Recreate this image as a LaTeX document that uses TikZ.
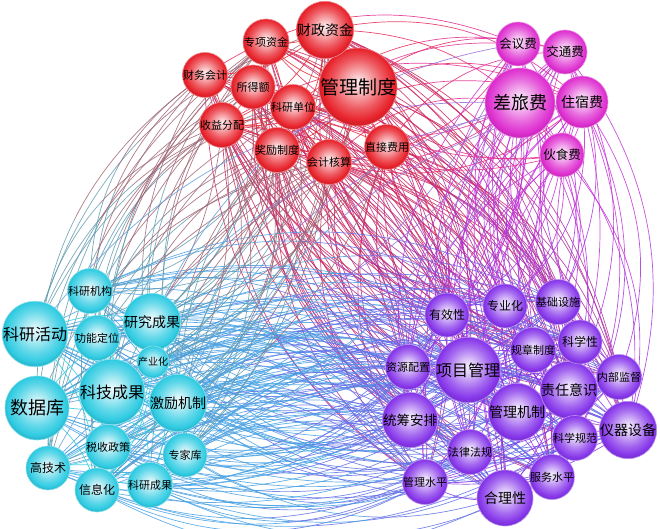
\documentclass[tikz,border=0pt]{standalone}
\usepackage{fontspec}
\newfontfamily\cjk{Noto Sans CJK SC}
\usetikzlibrary{calc,backgrounds}

\definecolor{cR}{HTML}{E8232C}
\definecolor{cM}{HTML}{DE2FD0}
\definecolor{cC}{HTML}{2FCBE2}
\definecolor{cP}{HTML}{8636EA}

% radial bubble shadings, the circle rim sits at 25bp
\newcommand\bubshade[2]{%
  \pgfdeclareradialshading{#1}{\pgfpoint{0bp}{3bp}}{color(0bp)=(#2!10!white); color(4bp)=(#2!22!white);
    color(16bp)=(#2!75!white); color(23bp)=(#2); color(25bp)=(#2!92!black); color(50bp)=(#2!92!black)}}
\bubshade{shR}{cR}
\bubshade{shM}{cM}
\bubshade{shC}{cC}
\bubshade{shP}{cP}

\newcommand\bsize[1]{\fontsize{#1}{#1}\selectfont}

\tikzset{
  bubble/.style={circle, inner sep=0pt, line width=0.6pt},
  bubR/.style={bubble, shading=shR, draw=cR!55!white},
  bubM/.style={bubble, shading=shM, draw=cM!55!white},
  bubC/.style={bubble, shading=shC, draw=cC!55!white},
  bubP/.style={bubble, shading=shP, draw=cP!55!white},
  link/.style={line width=0.7pt, draw opacity=0.85},
}

% one curved link in two halves, coloured from each end
\newcommand\halflink[4]{%
  \path (#1.center) coordinate (p0) (#2.center) coordinate (p3);
  \path ($(p0)!0.3915!\bd:(p3)$) coordinate (p1)
        ($(p3)!0.3915!\nbd:(p0)$) coordinate (p2);
  \path ($(p0)!0.5!(p1)$) coordinate (q01)
        ($(p1)!0.5!(p2)$) coordinate (q12)
        ($(p2)!0.5!(p3)$) coordinate (q23);
  \path ($(q01)!0.5!(q12)$) coordinate (q012)
        ($(q12)!0.5!(q23)$) coordinate (q123);
  \path ($(q012)!0.5!(q123)$) coordinate (qm);
  \draw[link, draw=#3] (p0) .. controls (q01) and (q012) .. (qm);
  \draw[link, draw=#4] (qm) .. controls (q123) and (q23) .. (p3);
}

% links between two groups: prefix, count, prefix, count, share, colour, colour
\newcommand\linkset[7]{%
  \foreach \ia in {1,...,#2}{%
    \foreach \jb in {1,...,#4}{%
      \pgfmathtruncatemacro\keep{rnd<#5}%
      \ifnum\keep=1
        \pgfmathtruncatemacro\bd{rnd<0.5 ? 28 : -28}%
        \pgfmathtruncatemacro\nbd{0-(\bd)}%
        \halflink{#1\ia}{#3\jb}{#6!72!#7}{#7!60!#6}%
      \fi}}}

% links inside one group
\newcommand\innerset[4]{%
  \foreach \ia in {1,...,#2}{%
    \foreach \jb in {1,...,#2}{%
      \ifnum\jb>\ia
        \pgfmathtruncatemacro\keep{rnd<#3}%
        \ifnum\keep=1
          \draw[link, draw=#4] (#1\ia.center) to[bend left=20] (#1\jb.center);
        \fi
      \fi}}}

\begin{document}
\begin{tikzpicture}[x=1pt,y=-1pt]
  \useasboundingbox (0,0) rectangle (660,529);
  \pgfmathsetseed{42}

  % red group
  \foreach \x/\y/\rad/\fz/\txt [count=\n] in {358/87/39/19/管理制度, 325/30/28/14/财政资金,
      266/42/23/11/专项资金, 205/75/22/11/财务会计, 253/87/22/11/所得额, 293/107/22/11/科研单位,
      222/125/22/11/收益分配, 277/150/22/11/奖励制度, 329/162/22/11/会计核算, 387/147/22/11/直接费用}
    \node[bubR, minimum size=2*\rad, font=\cjk\bsize{\fz}] (R\n) at (\x,\y) {\txt};

  % magenta group
  \foreach \x/\y/\rad/\fz/\txt [count=\n] in {520/103/35/18/差旅费, 518/44/22/12.5/会议费,
      565/52/22/12.5/交通费, 582/102/26/14/住宿费, 562/155/22/12.5/伙食费}
    \node[bubM, minimum size=2*\rad, font=\cjk\bsize{\fz}] (M\n) at (\x,\y) {\txt};

  % cyan group
  \foreach \x/\y/\rad/\fz/\txt [count=\n] in {35/334/32/16/科研活动, 37/408/32/18/数据库,
      112/392/32/16/科技成果, 152/322/28/14/研究成果, 178/403/27/14/激励机制, 90/291/22/11/科研机构,
      97/338/22/11/功能定位, 153/362/16/10/产业化, 108/447/22/11/税收政策, 185/455/22/11/专家库,
      48/468/22/12/高技术, 97/490/22/12/信息化, 150/485/22/11/科研成果}
    \node[bubC, minimum size=2*\rad, font=\cjk\bsize{\fz}] (C\n) at (\x,\y) {\txt};

  % purple group
  \foreach \x/\y/\rad/\fz/\txt [count=\n] in {468/370/32/16/项目管理, 410/420/27/13.5/统筹安排,
      517/412/27/14/管理机制, 569/390/28/14/责任意识, 628/430/27/14/仪器设备, 505/498/28/14/合理性,
      447/315/22/12/有效性, 505/306/22/12/专业化, 558/302/22/11/基础设施, 580/342/22/12/科学性,
      533/350/22/11/规章制度, 408/367/22/11/资源配置, 619/377/22/11/内部监督, 575/438/22/11/科学规范,
      470/452/22/11/法律法规, 552/477/22/11/服务水平, 425/482/22/11/管理水平}
    \node[bubP, minimum size=2*\rad, font=\cjk\bsize{\fz}] (P\n) at (\x,\y) {\txt};

  \begin{scope}[on background layer]
    \fill[white] (0,0) rectangle (660,529);
    \linkset{R}{10}{P}{17}{0.7}{cR}{cP}
    \linkset{C}{13}{P}{17}{0.8}{cC}{cP}
    \linkset{C}{13}{R}{10}{0.5}{cC}{cR}
    \linkset{M}{5}{P}{17}{0.6}{cM}{cP}
    \linkset{R}{10}{M}{5}{0.5}{cR}{cM}
    \linkset{C}{13}{M}{5}{0.2}{cC}{cM}
    \innerset{R}{10}{0.5}{cR}
    \innerset{M}{5}{0.6}{cM}
    \innerset{C}{13}{0.4}{cC}
    \innerset{P}{17}{0.4}{cP}
  \end{scope}
\end{tikzpicture}
\end{document}
